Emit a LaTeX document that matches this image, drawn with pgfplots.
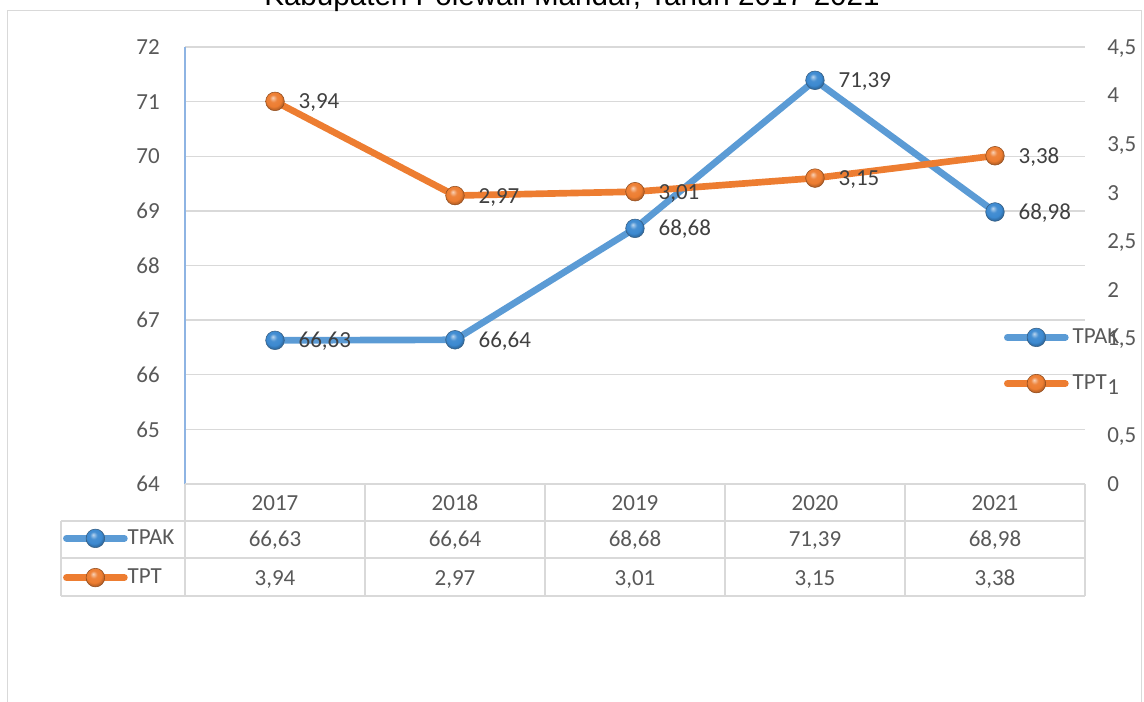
\documentclass[border=0pt]{standalone}
\usepackage{pgfplots}
\pgfplotsset{compat=1.18}
\usepackage{fontspec}
\setmainfont{Carlito}
\newfontfamily\arialf{Liberation Sans}
\definecolor{tpak}{HTML}{5B9BD5}
\definecolor{tpakball}{HTML}{3C89D0}
\definecolor{tpt}{HTML}{ED7D31}
\definecolor{gridc}{HTML}{D9D9D9}
\definecolor{txt}{HTML}{595959}
\definecolor{lbl}{HTML}{404040}
\definecolor{axblue}{HTML}{8EB4E3}
\makeatletter
\pgfdeclareradialshading[tikz@ball]{ball}{\pgfqpoint{-6bp}{10bp}}{%
  color(0bp)=(tikz@ball!35!white);
  color(10bp)=(tikz@ball!95!white);
  color(20bp)=(tikz@ball);
  color(26bp)=(tikz@ball!80!black);
  color(50bp)=(tikz@ball!55!black)}
\makeatother
\newcommand\cf{\fontsize{17.25}{20}\selectfont}
\pgfplotsset{
  mystyle/.style={
    scale only axis, width=675pt, height=327.75pt,
    at={(138.75pt,162.75pt)}, anchor=south west,
    xmin=0.5, xmax=5.5, clip=false,
    axis x line=none,
    tick style={draw=none},
    ticklabel style={font=\cf, text=txt, inner sep=0pt, text depth=0pt},
    /pgf/number format/assume math mode=true,
    /pgf/number format/use comma,
    /pgf/number format/1000 sep={},
    every node near coord/.append style={anchor=base west, inner sep=0pt, xshift=17.5pt, yshift=-5.6pt, font=\cf, text=lbl},
    legend cell align=left,
    legend image code/.code={\draw[##1, mark repeat=2, mark phase=2] plot coordinates {(0pt,0pt) (21.75pt,0pt) (43.5pt,0pt)};},
  },
  nnc/.style={nodes near coords={\pgfmathprintnumber[fixed,fixed zerofill,precision=2,use comma,assume math mode=true]{\pgfplotspointmeta}}},
  tpakstyle/.style={color=tpak, line width=5pt, line cap=round, line join=round, mark=ball, mark size=7pt, mark options={ball color=tpakball, line width=0.4pt, draw=tpak!60!black}},
  tptstyle/.style={color=tpt, line width=5pt, line cap=round, line join=round, mark=ball, mark size=7pt, mark options={ball color=tpt, line width=0.4pt, draw=tpt!60!black}},
}
\begin{document}
\begin{tikzpicture}[x=0.75pt,y=0.75pt]
\useasboundingbox (0,0) rectangle (1144,701);
\clip (0,0) rectangle (1144,701);
% frame
\draw[gridc, line width=1.1pt] (7.5,-10) -- (7.5,690.5) -- (1141.5,690.5) -- (1141.5,-10);
% title (cut off at the top as in the reference)
\node[anchor=base, font=\arialf\fontsize{22.2}{24}\selectfont, inner sep=0pt] at (572,695) {Kabupaten Polewali Mandar, Tahun 2017-2021};

\begin{axis}[mystyle,
  ymin=64, ymax=72, ytick distance=1,
  ymajorgrids, grid style={gridc, line width=1.1pt},
  axis y line*=left, y axis line style={axblue, line width=0.9pt, -},
  yticklabel style={anchor=east, xshift=-18.75pt},
  legend style={at={(axis description cs:-0.1355,-0.1693)}, anchor=west, draw=none, fill=none,
    inner sep=0pt, outer sep=0pt, row sep=15pt, column sep=0pt,
    nodes={inner sep=0pt, font=\cf, text=txt}},
]
\addplot[tpakstyle, nnc] coordinates {(1,66.63) (2,66.64) (3,68.68) (4,71.39) (5,68.98)};
\addlegendentry{TPAK}
\addlegendimage{tptstyle}
\addlegendentry{TPT}
\end{axis}

\begin{axis}[mystyle,
  ymin=0, ymax=4.5, ytick distance=0.5,
  axis y line*=right, y axis line style={draw=none},
  yticklabel style={anchor=west, xshift=16.5pt},
  legend style={at={(axis description cs:0.91,0.2826)}, anchor=west, draw=none, fill=none,
    inner sep=0pt, outer sep=0pt, row sep=20.25pt, column sep=3pt,
    nodes={inner sep=0pt, font=\cf, text=txt}},
]
\addlegendimage{tpakstyle}
\addlegendentry{TPAK}
\addplot[tptstyle, nnc] coordinates {(1,3.94) (2,2.97) (3,3.01) (4,3.15) (5,3.38)};
\addlegendentry{TPT}
\end{axis}

% data table below the plot
\begin{scope}[gridc, line width=1.1pt]
\draw (185,217) -- (1085,217);
\draw (61,180) -- (1085,180);
\draw (61,143) -- (1085,143);
\draw (61,105) -- (1085,105);
\draw (61,180) -- (61,105);
\foreach \x in {185,365,545,725,905,1085} \draw (\x,217) -- (\x,105);
\end{scope}
\foreach \x/\t in {275/2017,455/2018,635/2019,815/2020,995/2021}
  \node[anchor=base, inner sep=0pt, font=\cf, text=txt] at (\x,191) {\t};
\foreach \x/\t in {275/{66,63},455/{66,64},635/{68,68},815/{71,39},995/{68,98}}
  \node[anchor=base, inner sep=0pt, font=\cf, text=txt] at (\x,155) {\t};
\foreach \x/\t in {275/{3,94},455/{2,97},635/{3,01},815/{3,15},995/{3,38}}
  \node[anchor=base, inner sep=0pt, font=\cf, text=txt] at (\x,116) {\t};
\end{tikzpicture}
\end{document}
